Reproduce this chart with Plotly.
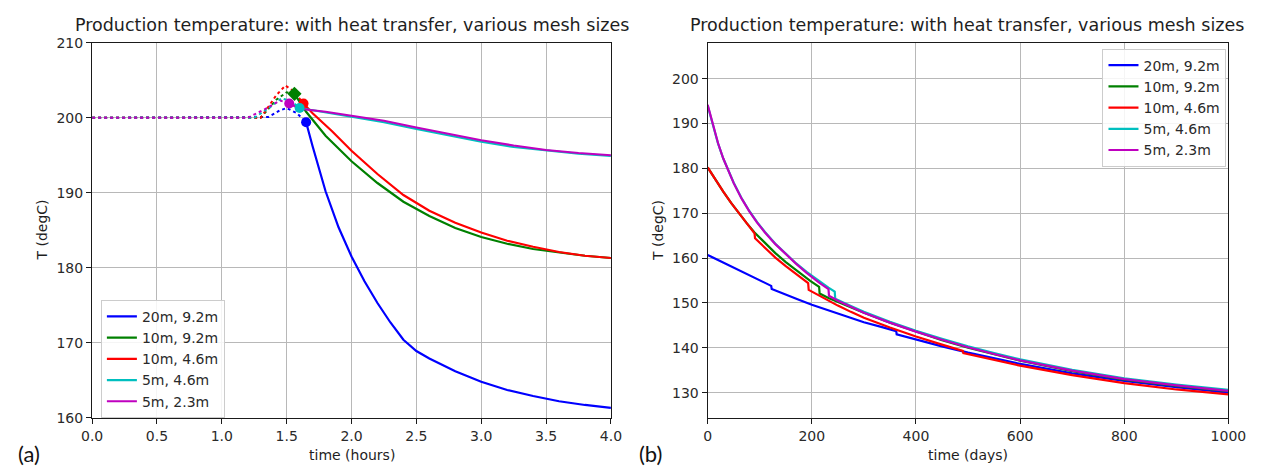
import plotly.graph_objects as go

# ---------------- data: panel (a), time in hours ----------------
labels = ["20m, 9.2m", "10m, 9.2m", "10m, 4.6m", "5m, 4.6m", "5m, 2.3m"]
colors = ["#0000ff", "#008000", "#ff0000", "#00bfbf", "#bf00bf"]
symbols = ["circle", "diamond", "circle", "circle", "circle"]

# dotted lead-in up to the start marker
a_pre_t = [
    [0, 1.36, 1.45, 1.50, 1.58, 1.65],
    [0, 1.30, 1.42, 1.50, 1.56],
    [0, 1.30, 1.42, 1.49, 1.55, 1.63],
    [0, 1.25, 1.38, 1.46, 1.52, 1.60],
    [0, 1.20, 1.35, 1.45, 1.52],
]
a_pre_T = [
    [200, 200.1, 201.0, 201.3, 200.6, 199.4],
    [200, 200.0, 202.4, 203.4, 203.2],
    [200, 200.0, 203.0, 204.3, 203.6, 201.9],
    [200, 200.0, 201.5, 202.6, 202.3, 201.4],
    [200, 200.0, 201.3, 202.3, 201.9],
]

# solid curves from the start marker on
a_t = [
    [1.65, 1.70, 1.80, 1.90, 2.00, 2.10, 2.20, 2.30, 2.40, 2.50, 2.60, 2.80, 3.00, 3.20, 3.40, 3.60, 3.80, 4.00],
    [1.56, 1.65, 1.80, 2.00, 2.20, 2.40, 2.60, 2.80, 3.00, 3.20, 3.40, 3.60, 3.80, 4.00],
    [1.63, 1.70, 1.85, 2.00, 2.20, 2.40, 2.60, 2.80, 3.00, 3.20, 3.40, 3.60, 3.80, 4.00],
    [1.60, 1.80, 2.00, 2.25, 2.50, 2.75, 3.00, 3.25, 3.50, 3.75, 4.00],
    [1.52, 1.60, 1.80, 2.00, 2.25, 2.50, 2.75, 3.00, 3.25, 3.50, 3.75, 4.00],
]
a_T = [
    [199.4, 196.2, 190.2, 185.4, 181.5, 178.2, 175.3, 172.7, 170.4, 168.9, 167.9, 166.2, 164.8, 163.7, 162.9, 162.2, 161.7, 161.3],
    [203.2, 200.8, 197.6, 194.2, 191.3, 188.8, 186.9, 185.3, 184.1, 183.2, 182.5, 182.0, 181.6, 181.3],
    [201.9, 200.6, 198.2, 195.6, 192.5, 189.7, 187.6, 186.0, 184.7, 183.6, 182.8, 182.1, 181.6, 181.3],
    [201.3, 200.7, 200.1, 199.4, 198.5, 197.6, 196.8, 196.1, 195.6, 195.2, 194.9],
    [201.9, 201.2, 200.8, 200.3, 199.6, 198.7, 197.8, 197.0, 196.3, 195.7, 195.3, 195.0],
]

# ---------------- data: panel (b), time in days ----------------
# repeated neighbouring days mark the small restart jumps in each run
b_t = [
    [0, 30, 60, 90, 122, 123, 150, 175, 200, 250, 300, 335, 362, 363, 400, 450, 500, 550, 600, 700, 800, 900, 1000],
    [0, 15, 30, 45, 60, 75, 90, 110, 130, 150, 175, 197, 214, 215, 232, 250, 275, 300, 350, 400, 450, 500, 550, 600,
     700, 800, 900, 1000],
    [0, 15, 30, 45, 60, 75, 90, 91, 110, 130, 150, 170, 193, 194, 220, 250, 275, 300, 350, 400, 450, 490, 491, 550,
     600, 700, 800, 900, 1000],
    [0, 10, 20, 30, 40, 50, 65, 80, 95, 110, 130, 150, 170, 190, 214, 232, 244, 245, 275, 300, 350, 400, 450, 500,
     550, 600, 700, 800, 900, 1000],
    [0, 10, 20, 30, 40, 50, 65, 80, 95, 110, 130, 150, 170, 190, 214, 232, 233, 250, 275, 300, 350, 400, 450, 500,
     550, 600, 700, 800, 900, 1000],
]
b_T = [
    [160.7, 159.0, 157.3, 155.6, 153.8, 153.1, 151.8, 150.7, 149.6, 147.6, 145.7, 144.6, 143.7, 143.0, 141.8, 140.3,
     138.9, 137.6, 136.4, 134.3, 132.6, 131.2, 130.0],
    [180.2, 177.4, 174.8, 172.3, 170.0, 167.8, 165.7, 163.3, 161.1, 159.1, 156.8, 154.9, 153.6, 152.1, 151.1, 150.2,
     149.0, 147.8, 145.6, 143.6, 141.7, 140.0, 138.5, 137.1, 134.8, 132.9, 131.5, 130.3],
    [180.2, 177.4, 174.8, 172.3, 170.0, 167.7, 165.5, 164.4, 162.2, 160.1, 158.2, 156.4, 154.4, 152.9, 151.2, 149.4,
     148.0, 146.7, 144.5, 142.5, 140.7, 139.3, 138.8, 137.2, 136.0, 133.9, 132.1, 130.7, 129.6],
    [194.0, 189.5, 185.5, 182.2, 179.3, 176.8, 173.4, 170.5, 168.0, 165.8, 163.2, 160.9, 158.8, 156.9, 154.8, 153.4,
     152.5, 150.9, 149.3, 148.0, 145.8, 143.8, 142.0, 140.3, 138.8, 137.4, 135.1, 133.2, 131.8, 130.6],
    [194.2, 189.6, 185.6, 182.2, 179.3, 176.7, 173.3, 170.4, 167.9, 165.7, 163.1, 160.8, 158.7, 156.7, 154.5, 153.1,
     151.6, 150.5, 149.1, 147.8, 145.6, 143.6, 141.8, 140.1, 138.6, 137.2, 134.9, 133.0, 131.6, 130.4],
]

# ---------------- figure ----------------
W, H = 1265, 475
fig = go.Figure()

for i in range(5):
    fig.add_trace(go.Scatter(
        x=a_pre_t[i], y=a_pre_T[i], mode="lines", xaxis="x", yaxis="y",
        line=dict(color=colors[i], width=2, dash="dot"), showlegend=False, hoverinfo="skip"))
for i in range(5):
    fig.add_trace(go.Scatter(
        x=a_t[i], y=a_T[i], mode="lines", xaxis="x", yaxis="y", name=labels[i],
        line=dict(color=colors[i], width=2.2), legend="legend"))
for i in range(5):
    fig.add_trace(go.Scatter(
        x=[a_t[i][0]], y=[a_T[i][0]], mode="markers", xaxis="x", yaxis="y",
        marker=dict(color=colors[i], size=10 if symbols[i] == "circle" else 11, symbol=symbols[i]),
        showlegend=False))
for i in range(5):
    fig.add_trace(go.Scatter(
        x=b_t[i], y=b_T[i], mode="lines", xaxis="x2", yaxis="y2", name=labels[i],
        line=dict(color=colors[i], width=2.2), legend="legend2"))


def px_x(p):
    return p / W


def px_y(p):
    return 1 - p / H


tickfont = dict(family="DejaVu Sans", size=14, color="#2a2a2a")
axis_common = dict(
    showgrid=True, gridcolor="#b8b8b8", gridwidth=1,
    showline=True, linecolor="#1a1a1a", linewidth=1.2, mirror=True,
    ticks="outside", ticklen=5, tickcolor="#1a1a1a", tickwidth=1,
    tickfont=tickfont, zeroline=False,
)

fig.update_layout(
    width=W, height=H,
    margin=dict(l=0, r=0, t=0, b=0),
    paper_bgcolor="white", plot_bgcolor="white",
    font=dict(family="DejaVu Sans", color="#2a2a2a"),
    xaxis=dict(domain=[px_x(83), px_x(614)], range=[0, 4], tickvals=[0, 0.5, 1, 1.5, 2, 2.5, 3, 3.5, 4],
               ticktext=["0.0", "0.5", "1.0", "1.5", "2.0", "2.5", "3.0", "3.5", "4.0"],
               anchor="y", **axis_common),
    yaxis=dict(domain=[px_y(424), px_y(36)], range=[160, 210], tickvals=[160, 170, 180, 190, 200, 210],
               anchor="x", **axis_common),
    xaxis2=dict(domain=[px_x(713), px_x(1246)], range=[0, 1000], tickvals=[0, 200, 400, 600, 800, 1000],
                anchor="y2", **axis_common),
    yaxis2=dict(domain=[px_y(424), px_y(36)], range=[124.4, 208], tickvals=[130, 140, 150, 160, 170, 180, 190, 200],
                anchor="x2", **axis_common),
    legend=dict(x=px_x(92), y=px_y(302), xanchor="left", yanchor="top",
                bgcolor="rgba(255,255,255,0.85)", bordercolor="#cccccc", borderwidth=1,
                font=dict(family="DejaVu Sans", size=14, color="#2a2a2a")),
    legend2=dict(x=px_x(1244), y=px_y(42), xanchor="right", yanchor="top",
                 bgcolor="rgba(255,255,255,0.85)", bordercolor="#cccccc", borderwidth=1,
                 font=dict(family="DejaVu Sans", size=14, color="#2a2a2a")),
    showlegend=True,
)

title = "Production temperature: with heat transfer, various mesh sizes"
ann = [
    dict(text=title, x=px_x(349.5), y=px_y(18), size=17.5),
    dict(text=title, x=px_x(978.5), y=px_y(18), size=17.5),
    dict(text="time (hours)", x=px_x(349), y=px_y(463), size=14),
    dict(text="time (days)", x=px_x(979), y=px_y(463), size=14),
]
for a in ann:
    fig.add_annotation(text=a["text"], x=a["x"], y=a["y"], xref="paper", yref="paper",
                       xanchor="center", yanchor="middle", showarrow=False,
                       font=dict(family="DejaVu Sans", size=a["size"], color="#1e1e1e"))
for xp in (32, 662):
    fig.add_annotation(text="T (degC)", x=px_x(xp), y=px_y(230), xref="paper", yref="paper",
                       xanchor="center", yanchor="middle", showarrow=False, textangle=-90,
                       font=dict(family="DejaVu Sans", size=14, color="#1e1e1e"))
for txt, xp in (("(a)", 18), ("(b)", 655)):
    fig.add_annotation(text=txt, x=px_x(xp), y=px_y(461), xref="paper", yref="paper",
                       xanchor="center", yanchor="middle", showarrow=False,
                       font=dict(family="Lato", size=22, color="#111111"))

fig.write_html("out.html")
